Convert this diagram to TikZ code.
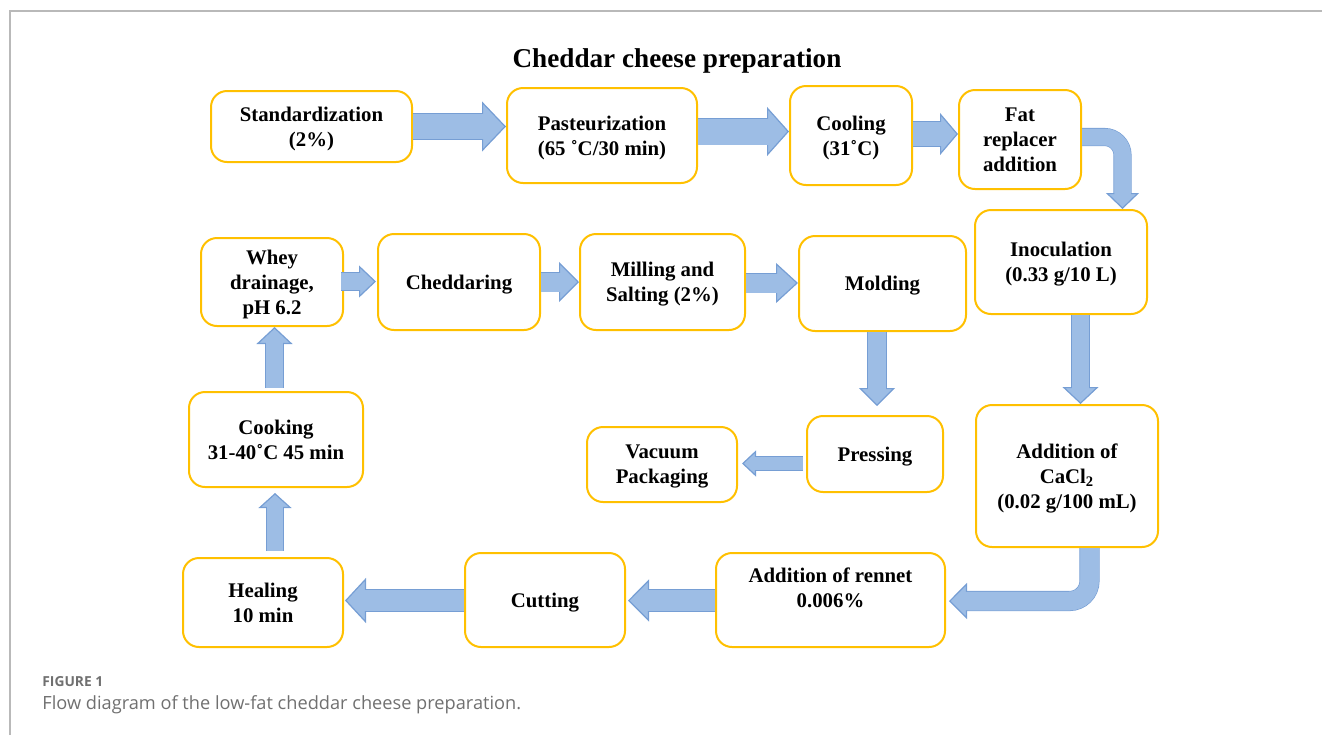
\documentclass[tikz,border=0pt]{standalone}
\usepackage{fontspec}
\setmainfont{Liberation Serif}
\newfontfamily\capfont{Open Sans}
\usetikzlibrary{arrows.meta,calc}

\definecolor{boxgold}{RGB}{255,192,0}
\definecolor{arrowfill}{RGB}{157,189,229}
\definecolor{arrowedge}{RGB}{118,158,212}
\definecolor{framegray}{RGB}{185,185,185}
\definecolor{capgray}{RGB}{112,112,112}

\tikzset{
  stage/.style={draw=boxgold, line width=1pt, rounded corners=8pt, fill=white,
    align=center, inner sep=0pt, text depth=0pt, font=\bfseries\fontsize{10.4}{12.5}\selectfont},
  flow/.style n args={3}{line width=#1, draw=arrowfill,
    -{Triangle[length=#3, width=#2, line width=0.6pt, fill=arrowfill, color=arrowedge]},
    preaction={draw=arrowedge, line width=#1+0.8pt, arrows=-, shorten >=#3-1pt},
    postaction={draw=arrowfill, line width=#1, arrows=-, shorten >=#3-1pt}}
}

\begin{document}
\begin{tikzpicture}[x=0.5pt,y=0.5pt]
\useasboundingbox (0,0) rectangle (1322,-735);
\draw [framegray, line width=1pt] (10,-735) -- (10,-11) -- (1322,-11);
\node [font=\bfseries\fontsize{13.6}{16}\selectfont] (title) at (677,-60.5) {Cheddar cheese preparation};
% top row
\node [stage, minimum width=100.5pt, minimum height=35.5pt] (std) at (311.5,-126.5) {Standardization\\(2\%)};
\node [stage, minimum width=95pt, minimum height=47.5pt] (past) at (602,-135.5) {Pasteurization\\(65 ˚C/30 min)};
\node [stage, minimum width=61pt, minimum height=49.5pt] (cool) at (851,-135.5) {Cooling\\(31˚C)};
\node [stage, minimum width=61pt, minimum height=49.5pt] (fat) at (1020,-139.5) {Fat\\replacer\\addition};
% right column
\node [stage, minimum width=86pt, minimum height=52pt] (inoc) at (1061,-262) {Inoculation\\(0.33 g/10 L)};
\node [stage, minimum width=91pt, minimum height=71pt] (cacl) at (1067,-476) {Addition of\\CaCl\textsubscript{2}\\(0.02 g/100 mL)};
% bottom row
\node [stage, minimum width=114.5pt, minimum height=47pt] (rennet) at (830.5,-600) {Addition of rennet\\0.006\%\\\mbox{}};
\node [stage, minimum width=80pt, minimum height=47pt] (cut) at (545,-600) {Cutting};
\node [stage, minimum width=80pt, minimum height=44.5pt] (heal) at (263,-602.5) {Healing\\10 min};
% left column and middle row
\node [stage, minimum width=87pt, minimum height=47.5pt] (cook) at (276,-439.5) {Cooking\\31-40˚C 45 min};
\node [stage, minimum width=71pt, minimum height=44pt] (whey) at (272,-282) {Whey\\drainage,\\pH 6.2};
\node [stage, minimum width=81pt, minimum height=48pt] (chedd) at (459,-282) {Cheddaring};
\node [stage, minimum width=82.5pt, minimum height=48pt] (mill) at (662.5,-282) {Milling and\\Salting (2\%)};
\node [stage, minimum width=83.5pt, minimum height=47.5pt] (mold) at (882.5,-283.5) {Molding};
\node [stage, minimum width=68pt, minimum height=38pt] (press) at (875,-454) {Pressing};
\node [stage, minimum width=75pt, minimum height=37.5pt] (vac) at (662,-464.5) {Vacuum\\Packaging};
% arrows
\draw [flow={12.5pt}{25pt}{12pt}] (std.east) -- (std.east -| past.west);
\draw [flow={13pt}{24.5pt}{11pt}] ($(past.east)+(0,4)$) -- ($(cool.west)+(0,4)$);
\draw [flow={12pt}{21pt}{9pt}] ($(cool.east)+(0,1.5)$) -- ($(fat.west)+(0,5.5)$);
\draw [flow={8.25pt}{16.5pt}{8pt}, rounded corners=9pt] ($(fat.east)+(0,2.5)$) -| ($(inoc.north)+(61.5,0)$);
\draw [flow={8.5pt}{18pt}{8.5pt}] ($(inoc.south)+(19.5,0)$) -- ($(cacl.north)+(13.5,0)$);
\draw [flow={9.25pt}{18pt}{9pt}, rounded corners=10pt] ($(cacl.south)+(22.5,0)$) |- ($(rennet.east)+(3,-1)$);
\draw [flow={10.5pt}{21pt}{10.5pt}] ($(rennet.west)+(0,-0.5)$) -- ($(cut.east)+(2,-0.5)$);
\draw [flow={10.5pt}{22.5pt}{10.5pt}] ($(cut.west)+(0,-0.5)$) -- ($(heal.east)+(1,2)$);
\draw [flow={8pt}{16.5pt}{7.5pt}] ($(heal.north)+(12,6)$) -- ($(cook.south)+(-1,-5)$);
\draw [flow={8.5pt}{18pt}{8.5pt}] ($(cook.north)+(-1.5,3)$) -- ($(whey.south)+(2.5,0)$);
\draw [flow={8.5pt}{16pt}{8.5pt}] ($(whey.east)+(-3,0.5)$) -- ($(chedd.west)+(-1,0.5)$);
\draw [flow={9.5pt}{20pt}{10pt}] (chedd.east) -- (mill.west);
\draw [flow={9.5pt}{20pt}{11pt}] ($(mill.east)+(0,-1)$) -- ($(mold.west)+(0,0.5)$);
\draw [flow={9pt}{18pt}{9pt}] ($(mold.south)+(-5.5,0)$) -- ($(press.north)+(2,9)$);
\draw [flow={6.5pt}{13pt}{7pt}] ($(press.west)+(-3,-9.5)$) -- ($(vac.east)+(4,1)$);
% caption
\node [anchor=west, inner sep=0pt, text=capgray, font=\capfont\bfseries\fontsize{6.9}{9}\selectfont] (figlabel) at (42,-682) {FIGURE 1};
\node [anchor=west, inner sep=0pt, text=capgray, font=\capfont\fontsize{9.1}{11}\selectfont] (caption) at (42,-705) {Flow diagram of the low-fat cheddar cheese preparation.};
\end{tikzpicture}
\end{document}
